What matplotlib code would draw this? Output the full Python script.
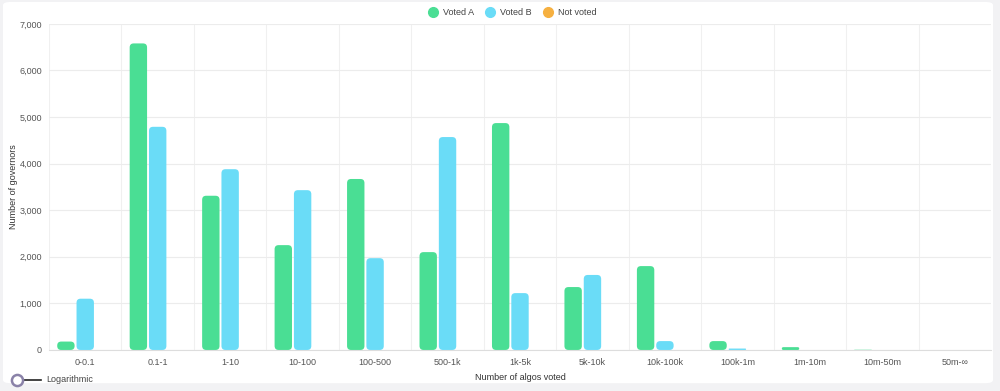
import numpy as np
import matplotlib.pyplot as plt
from matplotlib.patches import FancyBboxPatch
from matplotlib.lines import Line2D

categories = ['0-0.1', '0.1-1', '1-10', '10-100', '100-500', '500-1k', '1k-5k',
              '5k-10k', '10k-100k', '100k-1m', '1m-10m', '10m-50m', '50m-∞']
voted_a = [180, 6580, 3310, 2250, 3670, 2100, 4870, 1350, 1800, 190, 60, 5, 0]
voted_b = [1100, 4790, 3880, 3430, 1970, 4570, 1220, 1610, 190, 30, 0, 0, 0]
not_voted = [0] * 13
series = [('Voted A', voted_a, '#4ade94'),
          ('Voted B', voted_b, '#6adcf7'),
          ('Not voted', not_voted, '#f6b040')]
y_ticks = [0, 1000, 2000, 3000, 4000, 5000, 6000, 7000]

plt.rcParams['font.family'] = ['Liberation Sans', 'DejaVu Sans']
fig = plt.figure(figsize=(10, 3.91), dpi=100)
fig.patch.set_facecolor('#f2f2f4')

# white card behind everything
card = FancyBboxPatch((0.003, 0.02), 0.99, 0.975, boxstyle='round,pad=0,rounding_size=0.008',
                      transform=fig.transFigure, facecolor='white', edgecolor='none', zorder=-5)
fig.patches.append(card)

ax = fig.add_axes([0.049, 0.105, 0.942, 0.834])
ax.set_facecolor('none')
n = len(categories)
ax.set_xlim(0, n)
ax.set_ylim(0, 7000)

# chart.js style: categoryPercentage 0.8, barPercentage 0.9
slot = 0.8 / 3
bw = slot * 0.9
px_x = 72.5   # pixels per category
px_y = 0.0466  # pixels per unit
r_px = 4
for k, (name, vals, col) in enumerate(series):
    for i, v in enumerate(vals):
        if v <= 0:
            continue
        x0 = i + 0.1 + k * slot + (slot - bw) / 2
        h_px = v * px_y
        r = min(r_px, h_px / 2, bw * px_x / 2)
        rs = r / px_x
        aspect = px_x / px_y
        p = FancyBboxPatch((x0, 0), bw, v, boxstyle=f'round,pad=0,rounding_size={rs}',
                           mutation_aspect=aspect, facecolor=col, edgecolor='none', zorder=3)
        ax.add_patch(p)

ax.set_yticks(y_ticks)
ax.set_yticklabels([f'{t:,}' for t in y_ticks])
ax.set_xticks(np.arange(n) + 0.5)
ax.set_xticklabels(categories)
ax.set_xticks(np.arange(n + 1), minor=True)
ax.grid(axis='y', color='#ececec', linewidth=0.8, zorder=0)
ax.grid(axis='x', which='minor', color='#f0f0f0', linewidth=0.8, zorder=0)
ax.tick_params(axis='both', which='both', length=0, labelsize=6.5, colors='#555555')
ax.tick_params(axis='x', pad=6)
ax.tick_params(axis='y', pad=5)
for s in ['top', 'right', 'left']:
    ax.spines[s].set_visible(False)
ax.spines['bottom'].set_color('#dddddd')
ax.set_ylabel('Number of governors', fontsize=6.5, color='#333333')
ax.yaxis.set_label_coords(-0.033, 0.5)
ax.set_xlabel('Number of algos voted', fontsize=6.5, color='#333333', labelpad=4)

handles = [Line2D([], [], marker='o', linestyle='none', markersize=7, markerfacecolor=c,
                  markeredgecolor=c) for _, _, c in series]
fig.legend(handles, [s[0] for s in series], loc='center', bbox_to_anchor=(0.51, 0.967),
           ncol=3, frameon=False, fontsize=6.5, handletextpad=0.1, columnspacing=0.8,
           labelcolor='#444444')

# "Logarithmic" toggle at bottom left
fig.add_artist(Line2D([0.023, 0.041], [0.029, 0.029], transform=fig.transFigure,
                      color='#222222', linewidth=1.2))
fig.add_artist(Line2D([0.017], [0.029], transform=fig.transFigure, marker='o',
                      markersize=8, markerfacecolor='white', markeredgecolor='#8a82a8',
                      markeredgewidth=1.8))
fig.text(0.046, 0.029, 'Logarithmic', fontsize=6.5, color='#444444', va='center')

fig.savefig('out.png', dpi=100, facecolor=fig.get_facecolor())
